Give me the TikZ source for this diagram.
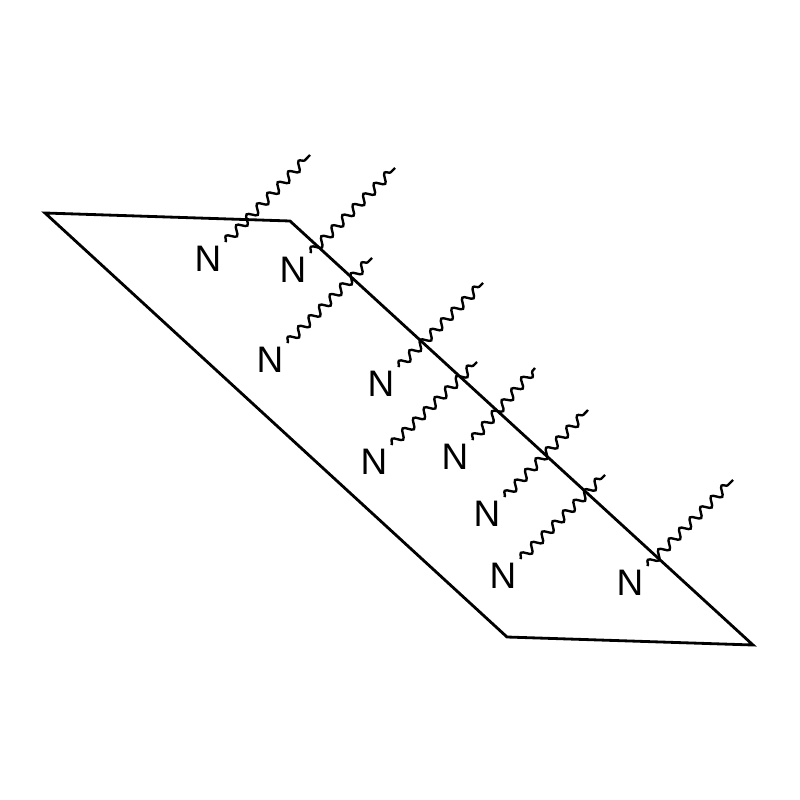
\documentclass[tikz,border=0pt]{standalone}
\usepackage{fontspec}
\setmainfont{Liberation Sans}
\usetikzlibrary{decorations.pathmorphing}

\tikzset{
	nlabel/.style={inner sep=2.2pt, font=\fontsize{21}{21}\selectfont},
	wave/.style={line width=1.35pt, decorate, decoration={snake, segment length=8.5pt, amplitude=2.4pt}},
	sheet/.style={line width=1.6pt, line join=miter}
}

\begin{document}
\begin{tikzpicture}[x=0.02cm, y=-0.02cm]
	\useasboundingbox (0,0) rectangle (800,800);
	\draw[sheet] (45,213) -- (290,221) -- (753,645) -- (507,637) -- cycle;

	\node[nlabel] (n1) at (208,259) {N};
	\node[nlabel] (n2) at (293,270) {N};
	\node[nlabel] (n3) at (270,360) {N};
	\node[nlabel] (n4) at (381,384) {N};
	\node[nlabel] (n5) at (374,462) {N};
	\node[nlabel] (n6) at (455,457) {N};
	\node[nlabel] (n7) at (487,514) {N};
	\node[nlabel] (n8) at (503,576) {N};
	\node[nlabel] (n9) at (630,583) {N};

	\coordinate (e1) at (310,155);
	\coordinate (e2) at (395,168);
	\coordinate (e3) at (372,258);
	\coordinate (e4) at (483,283);
	\coordinate (e5) at (477,362);
	\coordinate (e6) at (535,368);
	\coordinate (e7) at (588,410);
	\coordinate (e8) at (605,475);
	\coordinate (e9) at (733,480);

	\foreach \i in {1,...,9}
		\draw[wave] (n\i.north east) -- (e\i);
\end{tikzpicture}
\end{document}
